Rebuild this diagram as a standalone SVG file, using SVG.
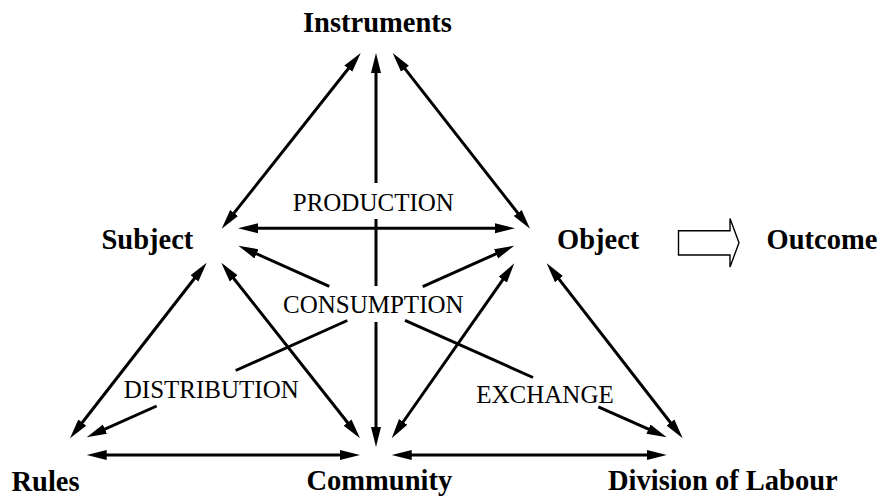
<svg xmlns="http://www.w3.org/2000/svg" width="880" height="498" viewBox="0 0 880 498">
<style>
.node{font-family:"Liberation Serif","Times New Roman",serif;font-weight:bold;font-size:28.5px;fill:#000}
.lbl{font-family:"Liberation Serif","Times New Roman",serif;font-size:25px;fill:#000;text-anchor:middle}
.c{stroke:#000;stroke-width:3;fill:none}
.s{marker-start:url(#ah)}
.e{marker-end:url(#ah)}
</style>
<defs>
<marker id="ah" markerUnits="userSpaceOnUse" markerWidth="24" markerHeight="12" viewBox="0 -6 24 12" refX="5" refY="0" orient="auto-start-reverse">
<path d="M0,-5 L20,0 L0,5 Z" fill="#000"/>
</marker>
</defs>
<rect width="880" height="498" fill="#fff"/>
<g id="connectors">
<path class="c s e" d="M351.4,64.8 L231,216.9"/>
<path class="c s e" d="M401.9,64.8 L520.8,216.9"/>
<path class="c s" d="M376,68 V183"/>
<path class="c" d="M376,219 V286"/>
<path class="c e" d="M376,322 V432"/>
<path class="c s e" d="M253,228.3 H500"/>
<path class="c s e" d="M197.5,274.5 L79.2,426.5"/>
<path class="c s e" d="M230.6,274.5 L350.7,426.5"/>
<path class="c s e" d="M505.7,275.6 L400.3,426"/>
<path class="c s e" d="M555.9,275.2 L673.5,426.5"/>
<path class="c s e" d="M101.7,455 H345"/>
<path class="c s e" d="M406.7,455 H651.7"/>
<path class="c s" d="M252,251.8 L329.3,286.4"/>
<path class="c" d="M405,320.3 L533,377.5"/>
<path class="c e" d="M598.3,406.8 L653,431.2"/>
<path class="c s" d="M100.4,431.2 L156.7,406"/>
<path class="c" d="M235.7,370.5 L347.3,320.5"/>
<path class="c e" d="M422.7,286.7 L500.6,251.8"/>
<path d="M678.5,230.7 H730 V218.5 L739,242.7 L730,267 V255 H678.5 Z" fill="#fff" stroke="#000" stroke-width="1.4"/>
</g>
<g id="instruments"><text class="node" x="303" y="32">Instruments</text></g>
<g id="subject"><text class="node" x="101.5" y="249">Subject</text></g>
<g id="object"><text class="node" x="557" y="249">Object</text></g>
<g id="outcome"><text class="node" x="766.5" y="249">Outcome</text></g>
<g id="rules"><text class="node" x="11.5" y="491">Rules</text></g>
<g id="community"><text class="node" x="306.5" y="490">Community</text></g>
<g id="division"><text class="node" x="608" y="490">Division of Labour</text></g>
<g id="labels">
<text class="lbl" x="373.3" y="210.5">PRODUCTION</text>
<text class="lbl" x="373.3" y="313.3">CONSUMPTION</text>
<text class="lbl" x="211.3" y="398.3">DISTRIBUTION</text>
<text class="lbl" x="545" y="402.7">EXCHANGE</text>
</g>
</svg>
